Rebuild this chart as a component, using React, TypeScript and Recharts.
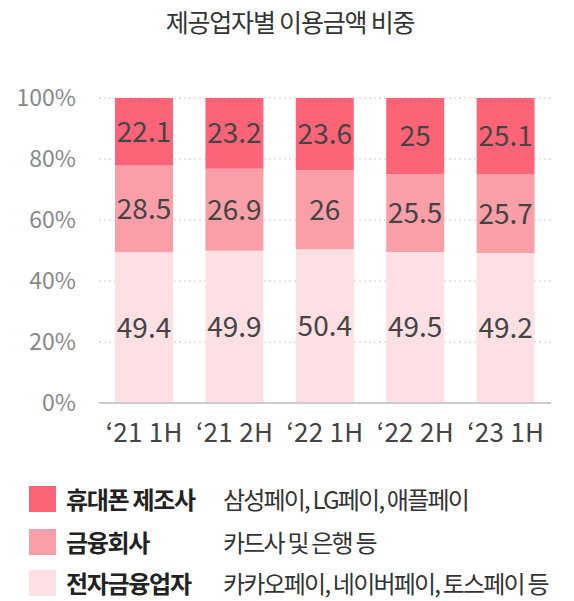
import React from 'react';
import { BarChart, Bar, XAxis, YAxis, CartesianGrid, LabelList } from 'recharts';

const categories = ["‘21 1H", "‘21 2H", "‘22 1H", "‘22 2H", "‘23 1H"];
const electronic = [49.4, 49.9, 50.4, 49.5, 49.2];
const financial = [28.5, 26.9, 26, 25.5, 25.7];
const phoneMaker = [22.1, 23.2, 23.6, 25, 25.1];
const yTicks = [0, 20, 40, 60, 80, 100];

const seriesNames = ["휴대폰 제조사", "금융회사", "전자금융업자"];
const seriesDescs = ["삼성페이, LG페이, 애플페이", "카드사 및 은행 등", "카카오페이, 네이버페이, 토스페이 등"];
const colors = ["#fe6477", "#fa9fa8", "#fde0e4"];

const data = categories.map((c, i) => ({
  name: c,
  electronic: electronic[i],
  financial: financial[i],
  phone: phoneMaker[i],
}));

const FONT = '"Noto Sans CJK KR", "Noto Sans", sans-serif';

export default function App() {
  return (
    <div style={{ position: 'absolute', left: 0, top: 0, width: 574, height: 601, background: '#fff', fontFamily: FONT, overflow: 'hidden' }}>
      <div style={{ position: 'absolute', left: 0, width: 580, top: 4, textAlign: 'center', fontSize: 25, lineHeight: '34px', color: '#333', letterSpacing: -1.2, whiteSpace: 'nowrap' }}>
        제공업자별 이용금액 비중
      </div>
      <div style={{ position: 'absolute', left: 0, top: 0 }}>
        <BarChart width={574} height={470} data={data} margin={{ top: 98, right: 23, left: 0, bottom: 37 }} barSize={58}>
          <CartesianGrid vertical={false} stroke="#cccccc" strokeDasharray="2 3" />
          <XAxis dataKey="name" tickLine={false} axisLine={{ stroke: '#cccccc', strokeWidth: 2 }} tickMargin={15} height={30}
            tick={{ fill: '#444', fontSize: 26, fontFamily: FONT, letterSpacing: 0.3 }} interval={0} />
          <YAxis width={99} domain={[0, 100]} ticks={yTicks} tickFormatter={(v) => `${v}%`} tickLine={false} axisLine={false}
            tickMargin={17} tick={{ fill: '#888', fontSize: 23, fontFamily: FONT }} />
          <Bar dataKey="electronic" stackId="a" fill={colors[2]} isAnimationActive={false}>
            <LabelList dataKey="electronic" position="center" fill="#444" fontSize={28} fontFamily={FONT} />
          </Bar>
          <Bar dataKey="financial" stackId="a" fill={colors[1]} isAnimationActive={false}>
            <LabelList dataKey="financial" position="center" fill="#444" fontSize={28} fontFamily={FONT} />
          </Bar>
          <Bar dataKey="phone" stackId="a" fill={colors[0]} isAnimationActive={false}>
            <LabelList dataKey="phone" position="center" fill="#444" fontSize={28} fontFamily={FONT} />
          </Bar>
        </BarChart>
      </div>
      {seriesNames.map((n, i) => (
        <div key={n} style={{ position: 'absolute', left: 0, top: [486, 529, 570][i], height: 26, width: 574 }}>
          <div style={{ position: 'absolute', left: 29, top: 0, width: 27, height: 26, background: colors[i] }} />
          <div style={{ position: 'absolute', left: 66, top: 1, fontSize: 24, lineHeight: '24px', fontWeight: 700, color: '#222', letterSpacing: -1.3, whiteSpace: 'nowrap' }}>{n}</div>
          <div style={{ position: 'absolute', left: 223, top: 1, fontSize: 24, lineHeight: '24px', color: '#333', letterSpacing: -1.8, whiteSpace: 'nowrap' }}>{seriesDescs[i]}</div>
        </div>
      ))}
    </div>
  );
}
